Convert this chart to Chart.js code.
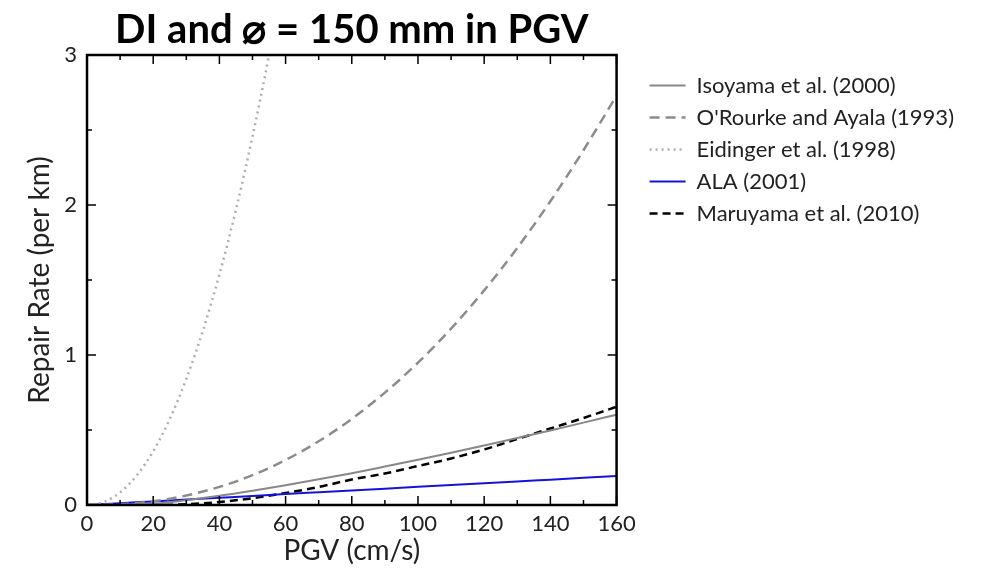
<!DOCTYPE html>
<html>
<head>
<meta charset="utf-8">
<script src="https://cdn.jsdelivr.net/npm/chart.js@4"></script>
<style>
  html, body { margin: 0; padding: 0; background: #fff; }
  #wrap { width: 982px; height: 569px; }
</style>
</head>
<body>
<div id="wrap"><canvas id="myChart"></canvas></div>
<script>
// PGV (cm/s) sample points
var pgv = [0, 10, 20, 30, 40, 50, 60, 70, 80, 90, 100, 110, 120, 130, 140, 150, 160]
var pgvEidinger = [0, 5, 10, 15, 20, 25, 30, 35, 40, 45, 50, 55, 60]

// Repair rate (per km)
var isoyama = [0, 0, 0.008, 0.032, 0.061, 0.095, 0.132, 0.171, 0.212, 0.256, 0.301, 0.348, 0.396, 0.446, 0.497, 0.549, 0.602]
var orourke = [0, 0.005, 0.025, 0.063, 0.121, 0.199, 0.300, 0.425, 0.574, 0.749, 0.949, 1.176, 1.431, 1.714, 2.025, 2.365, 2.730]
var eidinger = [0, 0.02, 0.084, 0.196, 0.358, 0.573, 0.840, 1.161, 1.537, 1.968, 2.456, 2.999, 3.600]
var ala = [0, 0.012, 0.024, 0.036, 0.048, 0.060, 0.073, 0.085, 0.097, 0.109, 0.121, 0.133, 0.145, 0.157, 0.169, 0.181, 0.193]
var maruyama = [0, 0, 0, 0.005, 0.02, 0.045, 0.08, 0.12, 0.17, 0.21, 0.26, 0.31, 0.37, 0.44, 0.51, 0.58, 0.655]

var xMajor = [0, 20, 40, 60, 80, 100, 120, 140, 160]
var xMinor = [10, 30, 50, 70, 90, 110, 130, 150]
var yMajor = [0, 1, 2, 3]
var yMinor = [0.5, 1.5, 2.5]

function pts(xs, ys) {
  return xs.map(function (x, i) { return { x: x, y: ys[i] } })
}

var FONT = "Lato, 'Open Sans', sans-serif"

// inward ticks on all four sides plus the frame
var frameTicks = {
  id: 'frameTicks',
  afterDatasetsDraw: function (chart) {
    var ctx = chart.ctx, a = chart.chartArea
    var xs = chart.scales.x, ys = chart.scales.y
    ctx.save()
    ctx.strokeStyle = '#000'
    ctx.lineWidth = 1.5
    function xt(list, len) {
      list.forEach(function (v) {
        var px = xs.getPixelForValue(v)
        ctx.beginPath()
        ctx.moveTo(px, a.bottom); ctx.lineTo(px, a.bottom - len)
        ctx.moveTo(px, a.top); ctx.lineTo(px, a.top + len)
        ctx.stroke()
      })
    }
    function yt(list, len) {
      list.forEach(function (v) {
        var py = ys.getPixelForValue(v)
        ctx.beginPath()
        ctx.moveTo(a.left, py); ctx.lineTo(a.left + len, py)
        ctx.moveTo(a.right, py); ctx.lineTo(a.right - len, py)
        ctx.stroke()
      })
    }
    xt(xMajor, 9); xt(xMinor, 5)
    yt(yMajor, 9); yt(yMinor, 5)
    ctx.lineWidth = 2.5
    ctx.strokeRect(a.left, a.top, a.right - a.left, a.bottom - a.top)
    ctx.restore()
  }
}

var ctx = document.getElementById('myChart')
var myChart = new Chart(ctx, {
  type: 'line',
  data: {
    datasets: [
      { label: 'Isoyama et al. (2000)', data: pts(pgv, isoyama), borderColor: '#888888', borderWidth: 2 },
      { label: "O'Rourke and Ayala (1993)", data: pts(pgv, orourke), borderColor: '#8c8c8c', borderWidth: 2.5, borderDash: [10, 6] },
      { label: 'Eidinger et al. (1998)', data: pts(pgvEidinger, eidinger), borderColor: '#aeaeae', borderWidth: 2.5, borderDash: [2, 4] },
      { label: 'ALA (2001)', data: pts(pgv, ala), borderColor: '#1414d8', borderWidth: 2 },
      { label: 'Maruyama et al. (2010)', data: pts(pgv, maruyama), borderColor: '#000', borderWidth: 2.5, borderDash: [8, 5] }
    ]
  },
  options: {
    responsive: true,
    maintainAspectRatio: false,
    animation: false,
    layout: { padding: { left: 10, right: 18, bottom: 0, top: 0 } },
    elements: {
      point: { radius: 0 },
      line: { cubicInterpolationMode: 'monotone', fill: false }
    },
    plugins: {
      tooltip: { enabled: false },
      title: {
        display: true,
        fullSize: false,
        text: 'DI and \u2300 = 150 mm in PGV',
        color: '#000',
        font: { family: FONT, size: 40, weight: 'bold' },
        padding: { top: 6, bottom: 1 }
      },
      legend: {
        position: 'right',
        align: 'start',
        fullSize: false,
        maxWidth: 420,
        title: { display: true, text: '', padding: 0, font: { size: 8 } },
        labels: {
          usePointStyle: true,
          pointStyle: 'line',
          pointStyleWidth: 36,
          padding: 10,
          color: '#222',
          font: { family: FONT, size: 22 },
          generateLabels: function (chart) {
            var items = Chart.defaults.plugins.legend.labels.generateLabels(chart)
            items.forEach(function (it) {
              var ds = chart.data.datasets[it.datasetIndex]
              it.lineDash = ds.borderDash || []
              it.lineWidth = ds.borderWidth
              it.strokeStyle = ds.borderColor
            })
            return items
          }
        }
      }
    },
    scales: {
      x: {
        type: 'linear',
        min: 0,
        max: 160,
        grid: { display: false, drawTicks: false },
        border: { display: false },
        ticks: { stepSize: 20, color: '#222', padding: 6, font: { family: FONT, size: 22 } },
        title: { display: true, text: 'PGV (cm/s)', color: '#222', font: { family: FONT, size: 28 }, padding: { top: 0, bottom: 1 } },
        afterFit: function (s) { s.height = 64 }
      },
      y: {
        min: 0,
        max: 3,
        grid: { display: false, drawTicks: false },
        border: { display: false },
        ticks: { stepSize: 1, color: '#222', padding: 10, font: { family: FONT, size: 22 } },
        title: { display: true, text: 'Repair Rate (per km)', color: '#222', font: { family: FONT, size: 28 }, padding: { top: 13, bottom: 0 } },
        afterFit: function (s) { s.width = 77 }
      },
      y2: {
        position: 'right',
        min: 0,
        max: 3,
        grid: { display: false, drawTicks: false },
        border: { display: false },
        ticks: { display: false },
        afterFit: function (s) { s.width = 23 }
      }
    }
  },
  plugins: [frameTicks]
})
</script>
</body>
</html>
